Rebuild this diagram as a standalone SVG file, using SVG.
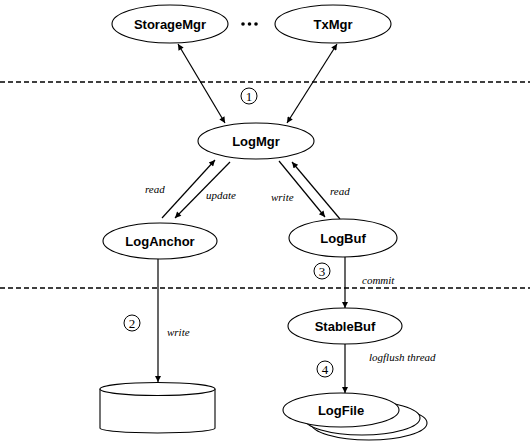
<svg xmlns="http://www.w3.org/2000/svg" width="530" height="443" viewBox="0 0 530 443">
<style>
.node ellipse{fill:#fff;stroke:#000;stroke-width:1.1}
.lbl{font-family:"Liberation Sans",Arial,sans-serif;font-weight:bold;font-size:13px;text-anchor:middle;dominant-baseline:central;fill:#000}
.edge{font-family:"Liberation Serif","Times New Roman",serif;font-style:italic;font-size:11px;fill:#000}
.num{font-family:"Liberation Serif","Times New Roman",serif;font-size:13px;text-anchor:middle;dominant-baseline:central;fill:#000}
.numc{fill:none;stroke:#000;stroke-width:1}
.conn line{stroke:#000;stroke-width:1.2;fill:none}
.sep{stroke:#000;stroke-width:1.3;stroke-dasharray:5 3}
</style>
<defs>
<marker id="ah" viewBox="0 0 10 10" refX="10" refY="5" markerWidth="9" markerHeight="6" markerUnits="userSpaceOnUse" orient="auto-start-reverse">
<path d="M0,0 L10,5 L0,10 z" fill="#000"/>
</marker>
</defs>
<rect width="530" height="443" fill="#fff"/>
<line class="sep" x1="0" y1="82" x2="530" y2="82"/>
<line class="sep" x1="0" y1="288" x2="530" y2="288"/>

<g id="connectors" class="conn">
<line x1="225" y1="123" x2="178" y2="44" marker-start="url(#ah)" marker-end="url(#ah)"/>
<line x1="287" y1="123" x2="337" y2="44" marker-start="url(#ah)" marker-end="url(#ah)"/>
<line x1="162" y1="218" x2="215" y2="160" marker-end="url(#ah)"/>
<line x1="230" y1="162" x2="175" y2="218" marker-end="url(#ah)"/>
<line x1="279" y1="161" x2="325" y2="217" marker-end="url(#ah)"/>
<line x1="340" y1="219" x2="292" y2="162" marker-end="url(#ah)"/>
<line x1="158" y1="259" x2="158" y2="382" marker-end="url(#ah)"/>
<line x1="345" y1="257" x2="345" y2="308" marker-end="url(#ah)"/>
<line x1="345" y1="344" x2="345" y2="393" marker-end="url(#ah)"/>
</g>

<g id="dots">
<circle cx="243" cy="24" r="1.8"/>
<circle cx="249.5" cy="24" r="1.8"/>
<circle cx="256" cy="24" r="1.8"/>
</g>

<g id="StorageMgr" class="node"><ellipse cx="170" cy="24" rx="58" ry="19"/><text class="lbl" x="170" y="24">StorageMgr</text></g>
<g id="TxMgr" class="node"><ellipse cx="333" cy="24" rx="58" ry="19"/><text class="lbl" x="333" y="24">TxMgr</text></g>
<g id="LogMgr" class="node"><ellipse cx="256" cy="141" rx="58" ry="18"/><text class="lbl" x="256" y="141">LogMgr</text></g>
<g id="LogAnchor" class="node"><ellipse cx="160" cy="241" rx="57" ry="18"/><text class="lbl" x="160" y="241">LogAnchor</text></g>
<g id="LogBuf" class="node"><ellipse cx="343" cy="238" rx="54" ry="19"/><text class="lbl" x="343" y="238">LogBuf</text></g>
<g id="StableBuf" class="node"><ellipse cx="345" cy="326" rx="57" ry="18"/><text class="lbl" x="345" y="326">StableBuf</text></g>
<g id="LogFile" class="node">
<ellipse cx="369" cy="423" rx="58" ry="17"/>
<ellipse cx="362" cy="418" rx="58" ry="17"/>
<ellipse cx="341" cy="410" rx="58" ry="17"/>
<text class="lbl" x="341" y="410">LogFile</text>
</g>
<g id="Disk" class="node">
<path d="M100,389 L100,428 A57.5,5 0 0 0 215,428 L215,389" fill="#fff" stroke="#000" stroke-width="1.1"/>
<ellipse cx="157.5" cy="389" rx="57.5" ry="6.5"/>
</g>

<g id="labels">
<text class="edge" x="145" y="193">read</text>
<text class="edge" x="206" y="199">update</text>
<text class="edge" x="271" y="201">write</text>
<text class="edge" x="330" y="195">read</text>
<text class="edge" x="362" y="284">commit</text>
<text class="edge" x="167" y="336">write</text>
<text class="edge" x="369" y="361">logflush thread</text>
</g>

<g id="steps">
<circle class="numc" cx="249" cy="96" r="8"/><text class="num" x="249" y="96">1</text>
<circle class="numc" cx="132" cy="323" r="8"/><text class="num" x="132" y="323">2</text>
<circle class="numc" cx="322" cy="271" r="8"/><text class="num" x="322" y="271">3</text>
<circle class="numc" cx="325" cy="369" r="8"/><text class="num" x="325" y="369">4</text>
</g>
</svg>
